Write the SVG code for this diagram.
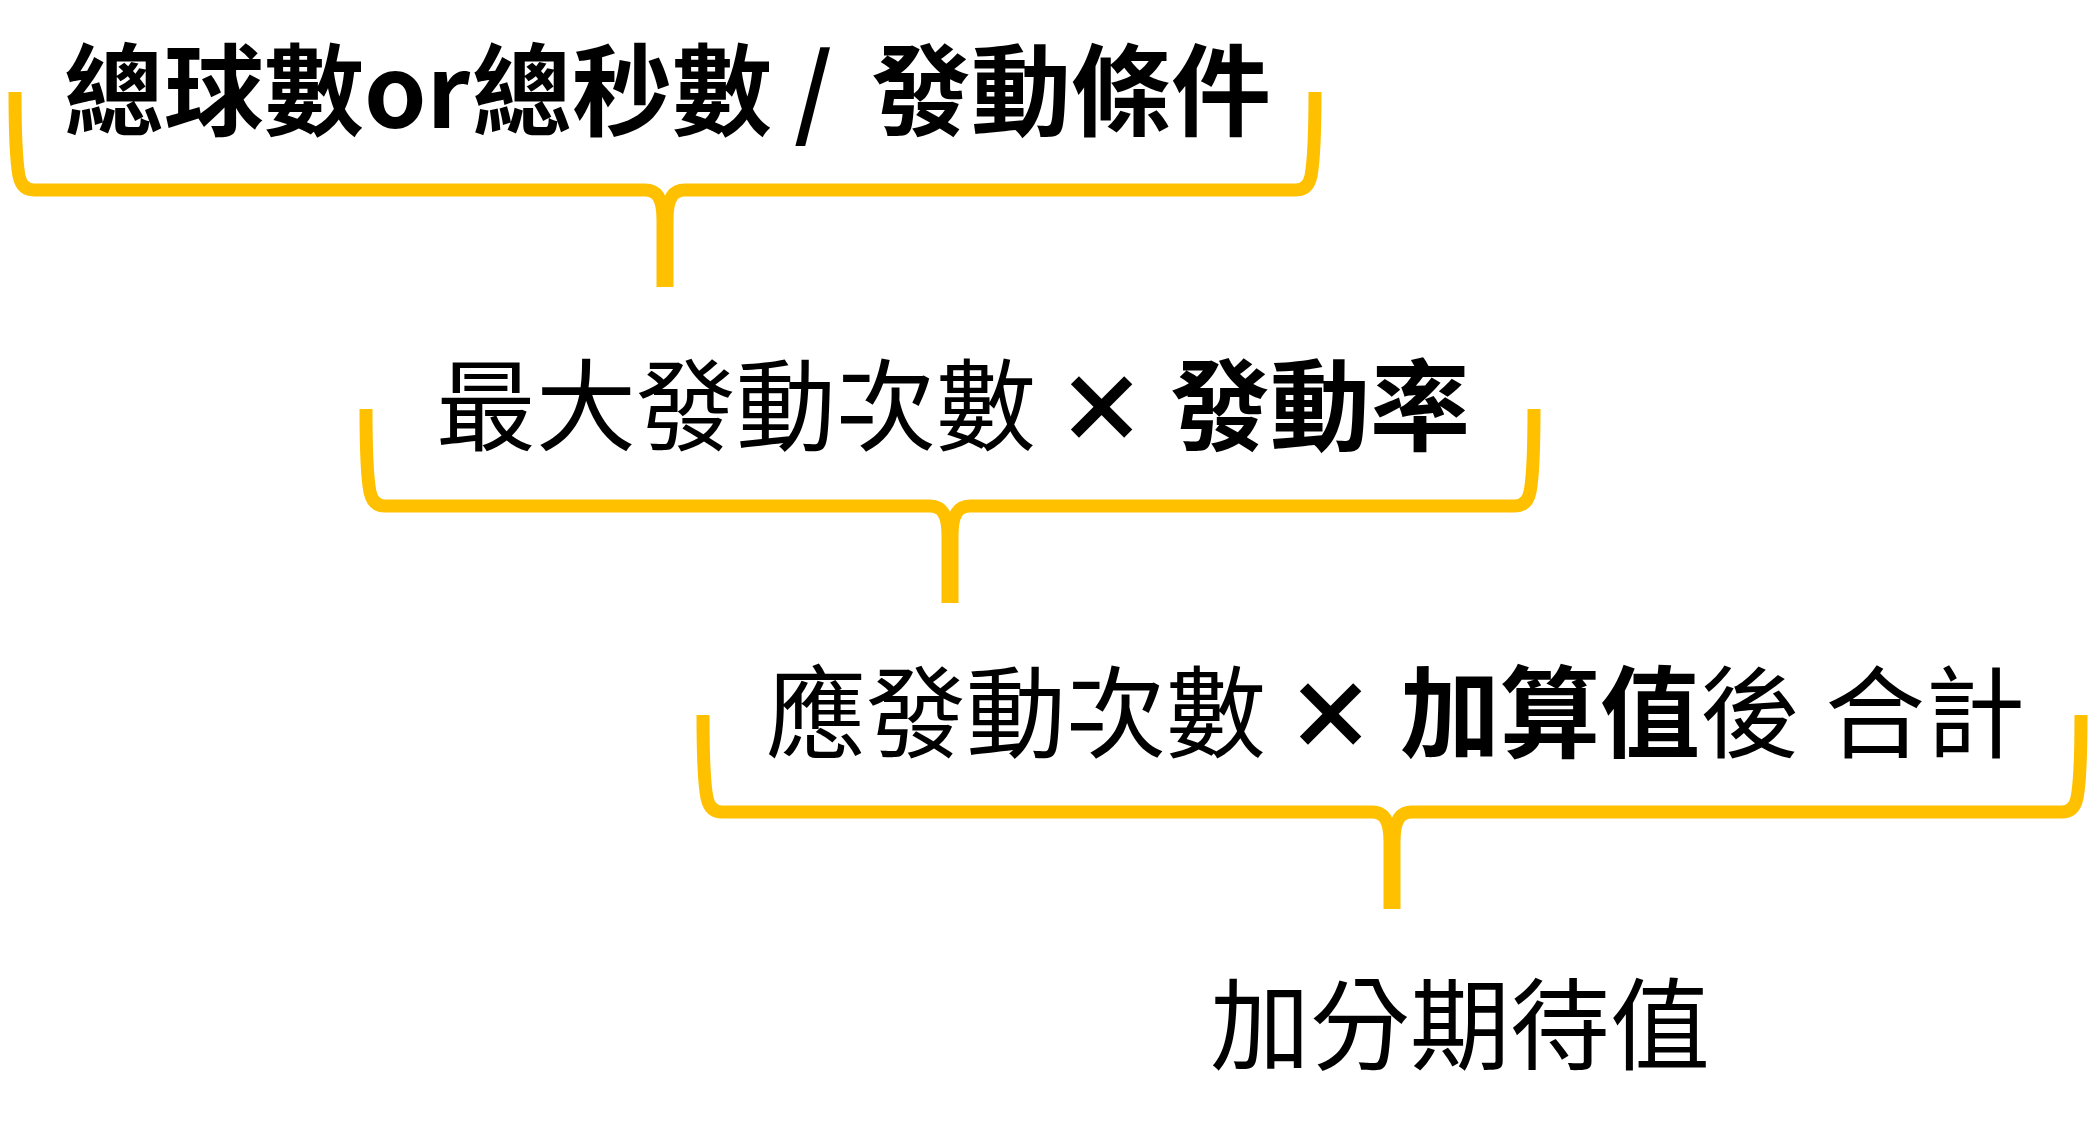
<svg xmlns="http://www.w3.org/2000/svg" width="2088" height="1148" viewBox="0 0 2088 1148">
<style>
.bg{fill:#ffffff}
.brace{fill:none;stroke:#FFC000;stroke-width:13;stroke-linejoin:round;stroke-linecap:butt}
.t{font-family:"Noto Sans CJK TC","Noto Sans CJK SC",sans-serif;font-size:100px;fill:#000000;font-weight:400}
.b{font-weight:700}
.r{font-weight:400}
.x{font-weight:700;font-size:88px;stroke:#000000;stroke-width:2.5px}
</style>
<rect class="bg" x="0" y="0" width="2088" height="1148"/>
<g id="connectors">
  <g id="brace1">
    <path class="brace" d="M15,92 C15,140 17,165 19,176 Q22,190 34,190 H645 C657,190 663,198 663,220 V287"/>
    <path class="brace" d="M1315,92 C1315,140 1313,165 1311,176 Q1308,190 1296,190 H685 C673,190 667,198 667,220 V287"/>
  </g>
  <g id="brace2">
    <path class="brace" d="M366,409 C366,457 368,482 370,492 Q373,506 385,506 H930 C942,506 948,514 948,536 V603"/>
    <path class="brace" d="M1534,409 C1534,457 1532,482 1530,492 Q1527,506 1515,506 H970 C958,506 952,514 952,536 V603"/>
  </g>
  <g id="brace3">
    <path class="brace" d="M703,715 C703,763 705,788 707,798 Q710,812 722,812 H1372 C1384,812 1390,820 1390,842 V909"/>
    <path class="brace" d="M2081,715 C2081,763 2079,788 2077,798 Q2074,812 2062,812 H1412 C1400,812 1394,820 1394,842 V909"/>
  </g>
</g>
<g id="node1">
  <text class="t b" y="128"><tspan x="64">總球數</tspan><tspan x="364">or</tspan><tspan x="472">總秒數</tspan><tspan x="794">/</tspan><tspan x="871">發動條件</tspan></text>
</g>
<g id="node2">
  <text class="t" y="443"><tspan class="r" x="436">最大發動次數</tspan><tspan class="x" x="1101.5" y="440" text-anchor="middle">×</tspan><tspan class="b" x="1170" y="443">發動率</tspan></text>
</g>
<g id="node3">
  <text class="t" y="750"><tspan class="r" x="766">應發動次數</tspan><tspan class="x" x="1330.5" y="747" text-anchor="middle">×</tspan><tspan class="b" x="1400" y="750">加算值</tspan><tspan class="r">後</tspan><tspan class="r" x="1825">合計</tspan></text>
</g>
<g id="node4">
  <text class="t r" x="1210" y="1062">加分期待值</text>
</g>
</svg>
